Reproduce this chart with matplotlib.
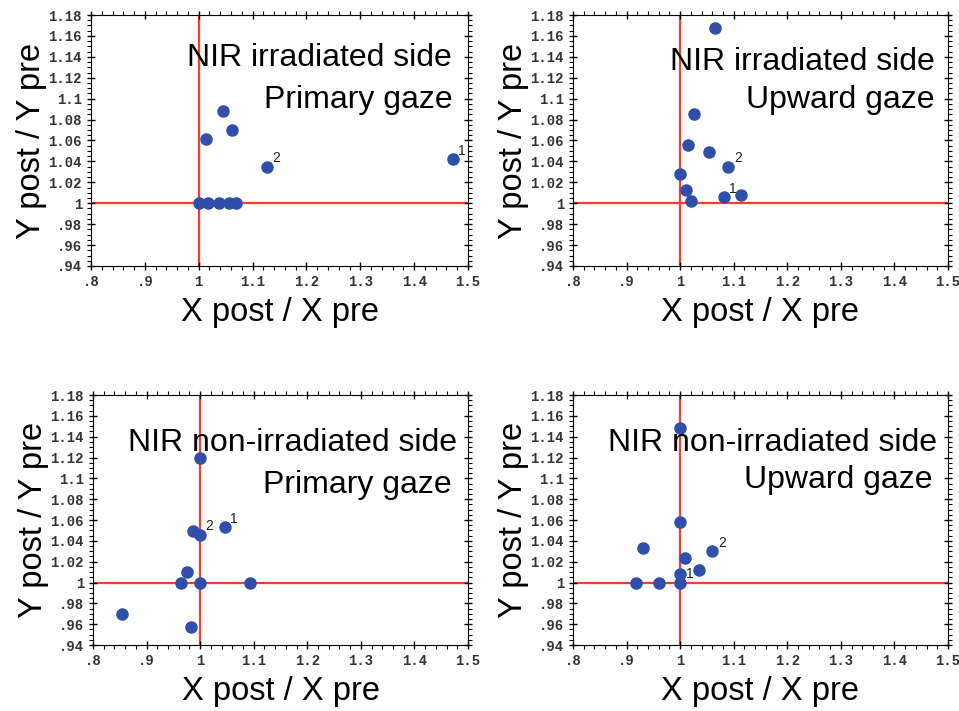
import matplotlib.pyplot as plt
from matplotlib.ticker import MultipleLocator, FuncFormatter

# NIR irradiated side, primary gaze
irr_pri_x = [1.0, 1.017, 1.038, 1.057, 1.07, 1.0135, 1.0445, 1.062, 1.126, 1.4715]
irr_pri_y = [1.0, 1.0, 1.0, 1.0, 1.0, 1.061, 1.088, 1.070, 1.035, 1.042]
irr_pri_lab = {9: '1', 8: '2'}

# NIR irradiated side, upward gaze
irr_up_x = [1.066, 1.025, 1.014, 1.054, 1.090, 1.0, 1.0115, 1.020, 1.081, 1.113]
irr_up_y = [1.168, 1.085, 1.056, 1.049, 1.035, 1.028, 1.013, 1.002, 1.006, 1.008]
irr_up_lab = {8: '1', 4: '2'}

# NIR non-irradiated side, primary gaze
non_pri_x = [1.0, 0.986, 1.0, 1.046, 0.976, 0.964, 1.0, 1.093, 0.855, 0.983]
non_pri_y = [1.12, 1.049, 1.046, 1.053, 1.010, 1.0, 1.0, 1.0, 0.970, 0.957]
non_pri_lab = {3: '1', 2: '2'}

# NIR non-irradiated side, upward gaze
non_up_x = [1.0, 1.0, 0.931, 1.06, 1.0097, 1.0346, 1.0, 1.0, 0.9176, 0.960]
non_up_y = [1.148, 1.058, 1.033, 1.030, 1.024, 1.012, 1.008, 1.0, 1.0, 1.0]
non_up_lab = {7: '1', 3: '2'}

titles = [('NIR irradiated side', 'Primary gaze'),
          ('NIR irradiated side', 'Upward gaze'),
          ('NIR non-irradiated side', 'Primary gaze'),
          ('NIR non-irradiated side', 'Upward gaze')]


def fmt(v, pos):
    s = ('%.2f' % v).rstrip('0').rstrip('.')
    if s.startswith('0.'):
        s = s[1:]
    return s


fig = plt.figure(figsize=(9.59, 7.11), dpi=100)
panels = [
    ([0.0949, 0.6259, 0.3931, 0.353], irr_pri_x, irr_pri_y, irr_pri_lab, (0.958, 0.829, 0.958, 0.661)),
    ([0.5975, 0.6259, 0.391, 0.353], irr_up_x, irr_up_y, irr_up_lab, (0.965, 0.813, 0.965, 0.661)),
    ([0.0970, 0.0928, 0.391, 0.3516], non_pri_x, non_pri_y, non_pri_lab, (0.971, 0.808, 0.957, 0.64)),
    ([0.5975, 0.0928, 0.391, 0.3516], non_up_x, non_up_y, non_up_lab, (0.971, 0.808, 0.96, 0.66)),
]

for (rect, xs, ys, labs, tpos), (t1, t2) in zip(panels, titles):
    ax = fig.add_axes(rect)
    ax.set_xlim(0.8, 1.5)
    ax.set_ylim(0.94, 1.18)
    ax.axvline(1.0, color='#ff3a2a', lw=1.6, zorder=1)
    ax.axhline(1.0, color='#ff3a2a', lw=1.6, zorder=1)
    ax.plot(xs, ys, 'o', color='#2f4faa', ms=8, zorder=3)
    for i, s in labs.items():
        ax.annotate(s, (xs[i], ys[i]), xytext=(4, 3), textcoords='offset points',
                    fontsize=10, color='#222222', family='Liberation Sans')
    ax.xaxis.set_major_locator(MultipleLocator(0.1))
    ax.xaxis.set_minor_locator(MultipleLocator(0.02))
    ax.yaxis.set_major_locator(MultipleLocator(0.02))
    ax.yaxis.set_minor_locator(MultipleLocator(0.005))
    ax.xaxis.set_major_formatter(FuncFormatter(fmt))
    ax.yaxis.set_major_formatter(FuncFormatter(fmt))
    ax.tick_params(which='major', direction='inout', length=6, width=1,
                   top=True, right=True, labelsize=10, labelcolor='#333333')
    ax.tick_params(which='minor', direction='out', length=3, width=0.8,
                   top=True, right=True)
    for lab in ax.get_xticklabels() + ax.get_yticklabels():
        lab.set_family('Liberation Mono')
        lab.set_weight('bold')
    ax.set_xlabel('X post / X pre', fontsize=23.5, family='Liberation Sans', labelpad=6)
    ax.set_ylabel('Y post / Y pre', fontsize=23.5, family='Liberation Sans', labelpad=1)
    ax.text(tpos[0], tpos[1], t1, transform=ax.transAxes, ha='right', va='center',
            fontsize=23, family='Liberation Sans')
    ax.text(tpos[2], tpos[3], t2, transform=ax.transAxes, ha='right', va='center',
            fontsize=23, family='Liberation Sans')

fig.savefig('out.png', dpi=100)
